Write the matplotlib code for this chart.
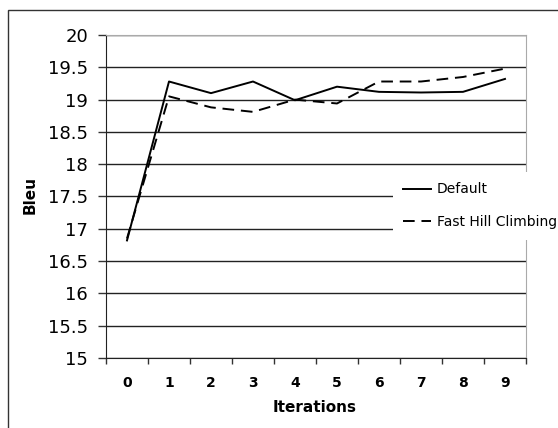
import matplotlib
matplotlib.use('Agg')
import matplotlib.pyplot as plt
from matplotlib.patches import Rectangle

iterations = [0, 1, 2, 3, 4, 5, 6, 7, 8, 9]
bleu_default = [16.82, 19.28, 19.10, 19.28, 18.99, 19.20, 19.12, 19.11, 19.12, 19.32]
bleu_fast = [16.85, 19.05, 18.88, 18.81, 19.00, 18.94, 19.28, 19.28, 19.35, 19.48]
y_ticks = [15, 15.5, 16, 16.5, 17, 17.5, 18, 18.5, 19, 19.5, 20]

W, H = 558, 428
fig = plt.figure(figsize=(W / 100, H / 100), dpi=100)
ax = fig.add_axes([106 / W, 1 - 358 / H, (526 - 106) / W, (358 - 35) / H])

# outer chart frame (cut off at right and bottom)
fig.patches.append(Rectangle((8 / W, -0.1), 1.2, 1 - 10 / H + 0.1,
                             transform=fig.transFigure, fill=False,
                             edgecolor='#333333', linewidth=1.0))

ax.plot(iterations, bleu_default, color='black', lw=1.4, label='Default')
ax.plot(iterations, bleu_fast, color='black', lw=1.4, ls=(0, (6, 3.5)),
        label='Fast Hill Climbing')

ax.set_xlim(-0.5, 9.5)
ax.set_ylim(15, 20)
ax.set_yticks(y_ticks)
ax.set_yticklabels(['%g' % v for v in y_ticks], fontsize=13)
ax.tick_params(axis='y', length=6, width=1, color='#333333', pad=7)

# category boundaries as tick marks, labels at centers
ax.set_xticks([i - 0.5 for i in iterations] + [9.5])
ax.set_xticklabels([])
ax.set_xticks(iterations, minor=True)
ax.set_xticklabels([str(i) for i in iterations], minor=True,
                   fontsize=10, fontweight='bold')
ax.tick_params(axis='x', which='major', length=4, width=1, color='#333333')
ax.tick_params(axis='x', which='minor', length=0, pad=13)

ax.yaxis.grid(True, color='#222222', lw=1)
ax.set_axisbelow(True)
ax.spines['top'].set_color('#aaaaaa')
ax.spines['right'].set_color('#aaaaaa')
ax.spines['left'].set_color('#222222')
ax.spines['bottom'].set_color('#222222')

fig.text(315 / W, 1 - 408 / H, 'Iterations', ha='center', va='center',
         fontsize=11, fontweight='bold')
fig.text(30 / W, 1 - 195 / H, 'Bleu', ha='center', va='center',
         rotation=90, fontsize=11, fontweight='bold')

leg = fig.legend(loc='upper left', bbox_to_anchor=(393 / W, 1 - 172 / H),
                 fontsize=10, frameon=True, fancybox=False,
                 borderpad=0.75, handlelength=1.95, handletextpad=0.45,
                 labelspacing=1.35, borderaxespad=0)
leg.get_frame().set_facecolor('white')
leg.get_frame().set_edgecolor('none')
leg.get_frame().set_alpha(1)

fig.savefig('out.png', dpi=100)
